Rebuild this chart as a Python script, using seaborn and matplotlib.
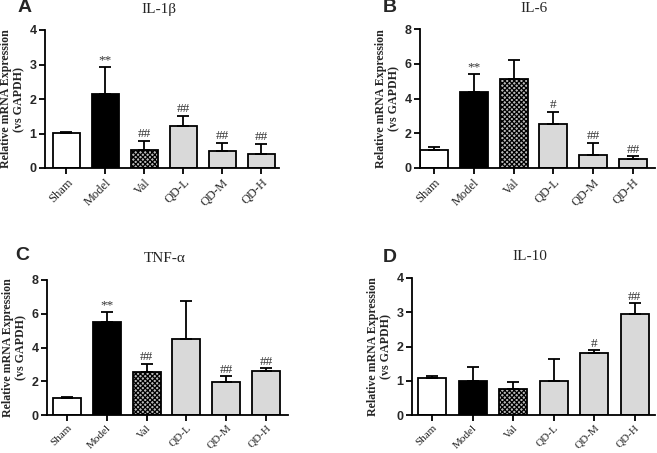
import numpy as np
import pandas as pd
import matplotlib
matplotlib.use("Agg")
import matplotlib.pyplot as plt
import seaborn as sns

groups = ["Sham", "Model", "Val", "QD-L", "QD-M", "QD-H"]

il1b_mean = [1.01, 2.14, 0.53, 1.22, 0.48, 0.41]
il1b_top = [1.05, 2.94, 0.79, 1.52, 0.72, 0.70]
il1b_marks = ["", "**", "##", "##", "##", "##"]

il6_mean = [1.06, 4.36, 5.12, 2.55, 0.77, 0.52]
il6_top = [1.19, 5.39, 6.24, 3.22, 1.44, 0.67]
il6_marks = ["", "**", "", "#", "##", "##"]

tnf_mean = [1.02, 5.49, 2.52, 4.49, 1.95, 2.60]
tnf_top = [1.06, 6.11, 3.02, 6.78, 2.29, 2.76]
tnf_marks = ["", "**", "##", "", "##", "##"]

il10_mean = [1.08, 0.99, 0.75, 0.98, 1.81, 2.95]
il10_top = [1.13, 1.41, 0.97, 1.64, 1.89, 3.26]
il10_marks = ["", "", "", "", "#", "##"]

bar_colors = ["white", "black", "white", "#d9d9d9", "#d9d9d9", "#d9d9d9"]

sns.set_style("ticks")
plt.rcParams["hatch.linewidth"] = 0.9

fig = plt.figure(figsize=(6.57, 4.53), dpi=100)

panels = [
    # letter, title, means, tops, marks, ymax, ystep, axes box (px), xlim, title y, letter pos, xtick size
    ("A", "IL-1β", il1b_mean, il1b_top, il1b_marks, 4, 1, [45, 30, 279, 168], (-0.55, 5.45), 9, (18, 8), 9),
    ("B", "IL-6", il6_mean, il6_top, il6_marks, 8, 2, [420, 29, 655, 168], (-0.35, 5.55), 9, (383, 8), 9),
    ("C", "TNF-α", tnf_mean, tnf_top, tnf_marks, 8, 2, [47, 280, 288, 415], (-0.5, 5.55), 258, (15, 255), 8),
    ("D", "IL-10", il10_mean, il10_top, il10_marks, 4, 1, [412, 278, 655, 415], (-0.5, 5.5), 257, (383, 257), 8),
]

W, H = 657.0, 453.0
serif = "Liberation Serif"
sans = "Liberation Sans"

for letter, title, means, tops, marks, ymax, ystep, box, xl, ty, lpos, xfs in panels:
    x0, y0, x1, y1 = box
    ax = fig.add_axes([x0 / W, 1 - y1 / H, (x1 - x0) / W, (y1 - y0) / H])
    df = pd.DataFrame({"group": groups, "value": means})
    sns.barplot(data=df, x="group", y="value", hue="group", palette=bar_colors,
                edgecolor="black", linewidth=1.3, width=0.7, legend=False, ax=ax)
    for i, p in enumerate(ax.patches):
        if groups[i] == "Val":
            p.set_hatch("xxxxxxx")
            p.set_facecolor("#bbbbbb")
    xs = np.arange(len(groups))
    upper = np.array(tops) - np.array(means)
    ax.errorbar(xs, means, yerr=[np.zeros(len(xs)), upper], fmt="none",
                ecolor="black", elinewidth=1.3, capsize=4.5, capthick=1.3, zorder=1)
    for i, m in enumerate(marks):
        if m:
            ax.text(xs[i], tops[i] + ymax * 0.005, m, ha="center", va="bottom",
                    fontsize=9.5, family=serif, color="#333333")
    ax.set_ylim(0, ymax)
    ax.set_xlim(*xl)
    ticks = np.arange(0, ymax + 0.01, ystep)
    ax.set_yticks(ticks)
    ax.set_yticklabels([str(int(v)) for v in ticks],
                       family=sans, fontweight="bold", fontsize=9)
    ax.set_xticks(xs)
    ax.set_xticklabels(groups, rotation=45, ha="right", rotation_mode="anchor",
                       family=serif, fontsize=xfs)
    ax.set_xlabel("")
    ax.set_ylabel("Relative mRNA Expression\n(vs GAPDH)", family=serif,
                  fontweight="bold", fontsize=8.6, labelpad=3, linespacing=1.2)
    sns.despine(ax=ax)
    for s in ["left", "bottom"]:
        ax.spines[s].set_linewidth(1.3)
        ax.spines[s].set_color("black")
    ax.tick_params(axis="both", length=4, width=1.3, color="black", pad=2)

    fig.text((x0 + x1) / 2 / W - 0.005, 1 - ty / H, title, ha="center",
             va="center", family=serif, fontsize=11)
    fig.text(lpos[0] / W, 1 - lpos[1] / H, letter,
             ha="left", va="center", family=sans, fontweight="bold", fontsize=14)

fig.savefig("out.png", dpi=100)
